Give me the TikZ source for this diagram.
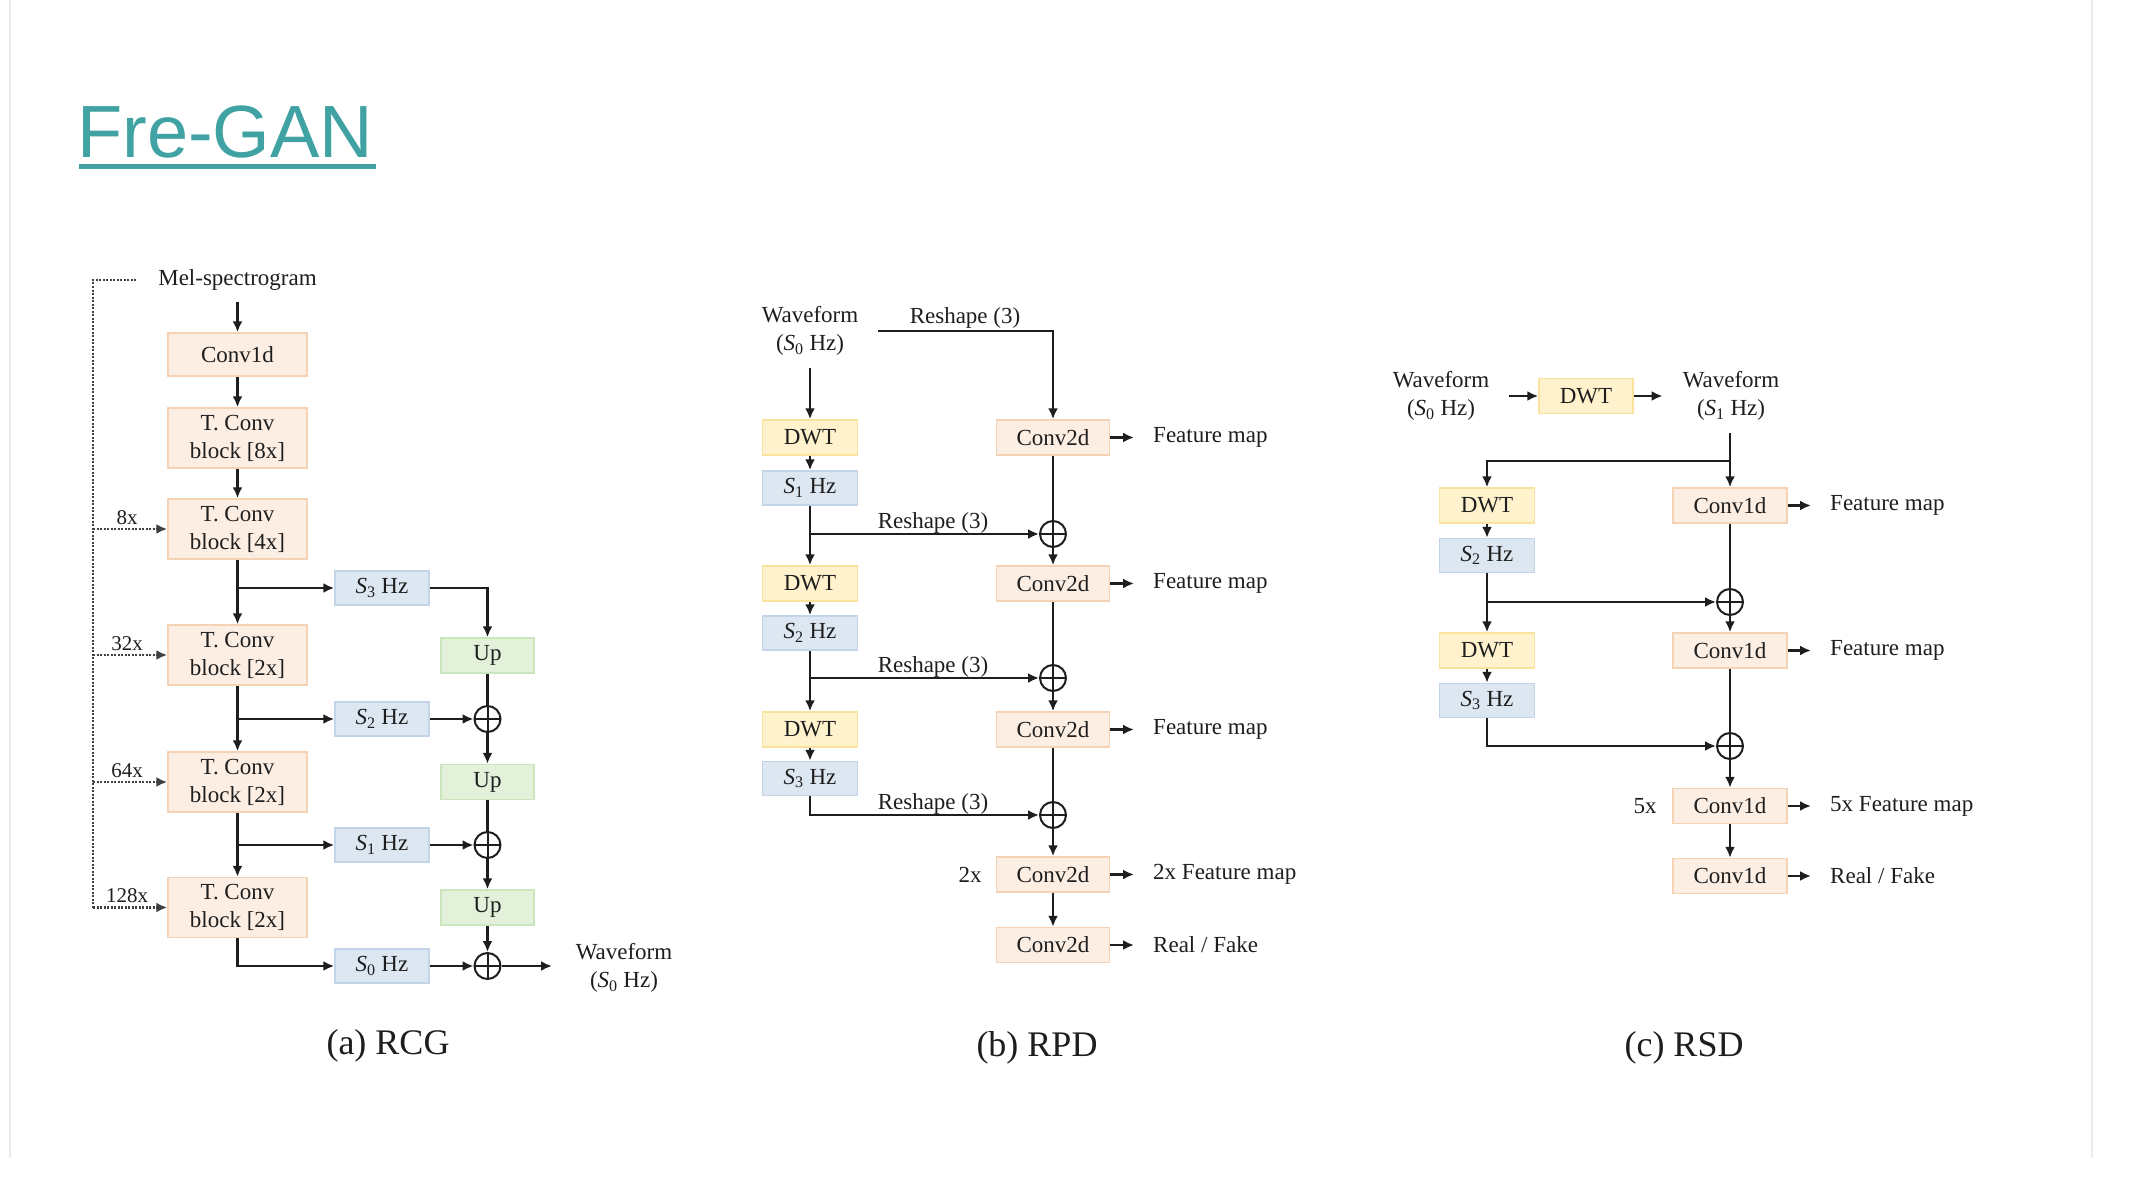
\documentclass[tikz,border=0pt]{standalone}
\usepackage{fontspec}
\setmainfont{Liberation Serif}
\newfontfamily\titlefont{Liberation Sans}
\usetikzlibrary{arrows.meta,calc}
\definecolor{pkF}{HTML}{FCEEE3}
\definecolor{pkD}{HTML}{F4D2B5}
\definecolor{blF}{HTML}{DDE7F2}
\definecolor{blD}{HTML}{C3D4E9}
\definecolor{grF}{HTML}{E3F1DA}
\definecolor{grD}{HTML}{CBE5BC}
\definecolor{ylF}{HTML}{FFF2CD}
\definecolor{ylD}{HTML}{F9E29C}
\definecolor{ttl}{RGB}{64,162,162}
\definecolor{txt}{HTML}{1E1E1E}
\newcommand{\Shz}[1]{\textit{S}\textsubscript{#1} Hz}
\begin{document}
\begin{tikzpicture}[x=1pt,y=-1pt,
 every node/.style={text=txt, font=\fontsize{23}{28}\selectfont},
 box/.style={draw, line width=1.5pt, inner sep=0pt, align=center},
 pbox/.style={box, fill=pkF, draw=pkD},
 bbox/.style={box, fill=blF, draw=blD, minimum width=94pt, minimum height=34pt},
 gbox/.style={box, fill=grF, draw=grD, minimum width=93pt, minimum height=35pt},
 ybox/.style={box, fill=ylF, draw=ylD, minimum width=95pt, minimum height=35pt},
 mainbox/.style={pbox, minimum width=139pt, minimum height=60pt},
 ctwo/.style={pbox, minimum width=113pt, minimum height=35pt},
 cone/.style={pbox, minimum width=114pt, minimum height=35pt},
 ln/.style={line width=2.5pt, draw=txt},
 arr/.style={ln, -{Latex[length=11pt,width=10pt]}},
 dline/.style={line width=2.2pt, draw=txt!85, dash pattern=on 2pt off 1.5pt},
 darr/.style={dline, -{Latex[length=11pt,width=10pt]}},
 oplus/.style={circle, draw=txt, line width=2pt, minimum size=26pt, inner sep=0pt,
   path picture={\draw[line width=2pt, draw=txt] (path picture bounding box.north) -- (path picture bounding box.south) (path picture bounding box.west) -- (path picture bounding box.east);}},
 lbl/.style={font=\fontsize{21}{25}\selectfont},
 capt/.style={font=\fontsize{36}{40}\selectfont},
 fm/.style={anchor=west, inner xsep=19pt},
 wf/.style={align=center, inner xsep=20pt},
]
\fill[white] (0,0) rectangle (2138,1182);
\useasboundingbox (0,0) rectangle (2138,1182);
\draw[black!8, line width=1.5pt] (10,0) -- (10,1158);
\draw[black!8, line width=1.5pt] (2092,0) -- (2092,1158);

% title
\node[anchor=base west, inner sep=0pt, font=\titlefont\fontsize{74}{80}\selectfont, text=ttl] (title) at (77,158) {Fre-GAN};
\draw[ttl, line width=5pt] (79,167) -- (376,167);

% ---------- (a) RCG ----------
\node (mel) at (237.5,280) {Mel-spectrogram};
\node[pbox, minimum width=139pt, minimum height=43pt] (c1) at (237.5,354.5) {Conv1d};
\node[mainbox] (t8) at (237.5,438) {T. Conv\\block [8x]};
\node[mainbox] (t4) at (237.5,529) {T. Conv\\block [4x]};
\node[mainbox] (t2a) at (237.5,655) {T. Conv\\block [2x]};
\node[mainbox] (t2b) at (237.5,782) {T. Conv\\block [2x]};
\node[mainbox] (t2c) at (237.5,907.5) {T. Conv\\block [2x]};
\node[bbox] (as3) at (382,588) {\Shz{3}};
\node[bbox] (as2) at (382,719) {\Shz{2}};
\node[bbox] (as1) at (382,845) {\Shz{1}};
\node[bbox] (as0) at (382,966) {\Shz{0}};
\node[gbox] (up1) at (487.5,655.5) {Up};
\node[gbox] (up2) at (487.5,782) {Up};
\node[gbox] (up3) at (487.5,907.5) {Up};
\node[oplus] (ap1) at (487.5,719) {};
\node[oplus] (ap2) at (487.5,845) {};
\node[oplus] (ap3) at (487.5,966) {};
\node[align=center] (awf) at (624,968) {Waveform\\(\Shz{0})};
\coordinate (aout) at (552,966);
\coordinate (mtop) at (237.5,302);

\draw[arr] (mtop) -- (c1.north);
\draw[arr] (c1) -- (t8);
\draw[arr] (t8) -- (t4);
\draw[arr] (t4) -- (t2a);
\draw[arr] (t2a) -- (t2b);
\draw[arr] (t2b) -- (t2c);
\draw[arr] (t4.south |- as3) -- (as3.west);
\draw[arr] (t2a.south |- as2) -- (as2.west);
\draw[arr] (t2b.south |- as1) -- (as1.west);
\draw[arr] (t2c.south) |- (as0.west);
\draw[arr] (as3.east) -| (up1.north);
\draw[ln] (up1) -- (ap1);
\draw[arr] (ap1) -- (up2);
\draw[ln] (up2) -- (ap2);
\draw[arr] (ap2) -- (up3);
\draw[arr] (up3) -- (ap3);
\draw[arr] (as2) -- (ap1);
\draw[arr] (as1) -- (ap2);
\draw[arr] (as0) -- (ap3);
\draw[arr] (ap3) -- (aout);

\coordinate (dA) at (136,280);
\coordinate (dB) at (93,280);
\coordinate (d1) at (93,529);
\coordinate (d2) at (93,655);
\coordinate (d3) at (93,782);
\coordinate (d4) at (93,907.5);
\draw[dline] (dA) -- (dB) -- (d4);
\draw[darr] (d1) -- (t4.west);
\draw[darr] (d2) -- (t2a.west);
\draw[darr] (d3) -- (t2b.west);
\draw[darr] (d4) -- (t2c.west);
\node[lbl, anchor=base] (l8) at (127,524) {8x};
\node[lbl, anchor=base] (l32) at (127,650) {32x};
\node[lbl, anchor=base] (l64) at (127,777) {64x};
\node[lbl, anchor=base] (l128) at (127,902.5) {128x};
\node[capt] (capa) at (388,1046) {(a) RCG};

% ---------- (b) RPD ----------
\node[wf] (bw) at (810,331) {Waveform\\(\Shz{0})};
\coordinate (bwb) at (810,368);
\node[ybox] (bd1) at (810,437.5) {DWT};
\node[ctwo] (bc1) at (1053,437.5) {Conv2d};
\node[bbox, minimum width=95pt] (bs1) at (810,488) {\Shz{1}};
\node[oplus] (bp1) at (1053,534) {};
\node[ybox] (bd2) at (810,583.5) {DWT};
\node[ctwo] (bc2) at (1053,583.5) {Conv2d};
\node[bbox, minimum width=95pt] (bs2) at (810,633) {\Shz{2}};
\node[oplus] (bp2) at (1053,678) {};
\node[ybox] (bd3) at (810,729.5) {DWT};
\node[ctwo] (bc3) at (1053,729.5) {Conv2d};
\node[bbox, minimum width=95pt] (bs3) at (810,778.5) {\Shz{3}};
\node[oplus] (bp3) at (1053,815) {};
\node[ctwo] (bc4) at (1053,874.5) {Conv2d};
\node[ctwo] (bc5) at (1053,945) {Conv2d};
\node (b2x) at (970,875) {2x};
\node[fm] (bf1) at (1134,437.5) {Feature map};
\node[fm] (bf2) at (1134,583.5) {Feature map};
\node[fm] (bf3) at (1134,729.5) {Feature map};
\node[fm] (bf4) at (1134,874.5) {2x Feature map};
\node[fm] (bf5) at (1134,945) {Real / Fake};

\draw[arr] (bw.east) -| (bc1.north);
\node[anchor=base] (br0) at (965,323) {Reshape (3)};
\draw[arr] (bwb) -- (bd1.north);
\draw[arr] (bd1) -- (bs1);
\draw[arr] (bs1) -- (bd2);
\draw[arr] (bd2) -- (bs2);
\draw[arr] (bs2) -- (bd3);
\draw[arr] (bd3) -- (bs3);
\draw[arr] (bs1.south |- bp1) -- (bp1.west);
\draw[arr] (bs2.south |- bp2) -- (bp2.west);
\draw[arr] (bs3.south) |- (bp3.west);
\node[anchor=base] (br1) at (933,528) {Reshape (3)};
\node[anchor=base] (br2) at (933,672) {Reshape (3)};
\node[anchor=base] (br3) at (933,809) {Reshape (3)};
\draw[ln] (bc1) -- (bp1);
\draw[arr] (bp1) -- (bc2);
\draw[ln] (bc2) -- (bp2);
\draw[arr] (bp2) -- (bc3);
\draw[ln] (bc3) -- (bp3);
\draw[arr] (bp3) -- (bc4);
\draw[arr] (bc4) -- (bc5);
\draw[arr] (bc1.east) -- (bf1.west);
\draw[arr] (bc2.east) -- (bf2.west);
\draw[arr] (bc3.east) -- (bf3.west);
\draw[arr] (bc4.east) -- (bf4.west);
\draw[arr] (bc5.east) -- (bf5.west);
\node[capt] (capb) at (1037,1048) {(b) RPD};

% ---------- (c) RSD ----------
\node[wf] (cw0) at (1441,396) {Waveform\\(\Shz{0})};
\node[ybox, minimum width=94pt] (cdt) at (1586,396) {DWT};
\node[wf] (cw1) at (1731,396) {Waveform\\(\Shz{1})};
\draw[arr] (cw0.east) -- (cdt.west);
\draw[arr] (cdt.east) -- (cw1.west);
\coordinate (cwb) at (1730,433);
\coordinate (cbr) at (1730,461);
\node[ybox] (cd1) at (1487,505.5) {DWT};
\node[cone] (cc1) at (1730,505.5) {Conv1d};
\node[bbox, minimum width=95pt] (cs2) at (1487,555.5) {\Shz{2}};
\node[oplus] (cp1) at (1730,602) {};
\node[ybox] (cd2) at (1487,650.5) {DWT};
\node[cone] (cc2) at (1730,650.5) {Conv1d};
\node[bbox, minimum width=95pt] (cs3) at (1487,700.5) {\Shz{3}};
\node[oplus] (cp2) at (1730,746) {};
\node[cone] (cc3) at (1730,806) {Conv1d};
\node[cone] (cc4) at (1730,876) {Conv1d};
\node (c5x) at (1645,806) {5x};
\node[fm] (cf1) at (1811,505.5) {Feature map};
\node[fm] (cf2) at (1811,650.5) {Feature map};
\node[fm] (cf3) at (1811,806) {5x Feature map};
\node[fm] (cf4) at (1811,876) {Real / Fake};

\draw[arr] (cwb) -- (cc1.north);
\draw[arr] (cbr) -| (cd1.north);
\draw[arr] (cd1) -- (cs2);
\draw[arr] (cs2) -- (cd2);
\draw[arr] (cs2.south |- cp1) -- (cp1.west);
\draw[ln] (cc1) -- (cp1);
\draw[arr] (cp1) -- (cc2);
\draw[arr] (cd2) -- (cs3);
\draw[arr] (cs3.south) |- (cp2.west);
\draw[ln] (cc2) -- (cp2);
\draw[arr] (cp2) -- (cc3);
\draw[arr] (cc3) -- (cc4);
\draw[arr] (cc1.east) -- (cf1.west);
\draw[arr] (cc2.east) -- (cf2.west);
\draw[arr] (cc3.east) -- (cf3.west);
\draw[arr] (cc4.east) -- (cf4.west);
\node[capt] (capc) at (1684,1048) {(c) RSD};
\end{tikzpicture}
\end{document}
